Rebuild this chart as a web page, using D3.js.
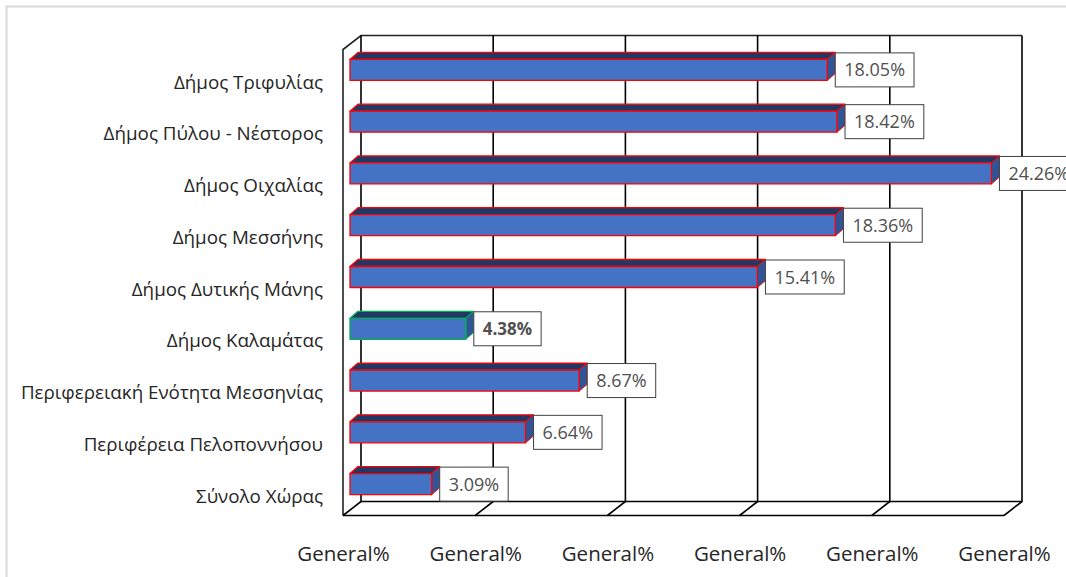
<!DOCTYPE html>
<html><head><meta charset="utf-8">
<script src="https://cdn.jsdelivr.net/npm/d3@7"></script>
<style>
html,body{margin:0;padding:0;background:#fff;overflow:hidden}
svg{display:block}
text{font-family:"Open Sans",sans-serif}
</style></head><body><svg id="c" width="1066" height="577"></svg>
<script>
const categories = ["Δήμος Τριφυλίας","Δήμος Πύλου - Νέστορος","Δήμος Οιχαλίας","Δήμος Μεσσήνης","Δήμος Δυτικής Μάνης","Δήμος Καλαμάτας","Περιφερειακή Ενότητα Μεσσηνίας","Περιφέρεια Πελοποννήσου","Σύνολο Χώρας"];
const values = [18.05,18.42,24.26,18.36,15.41,4.38,8.67,6.64,3.09];
const highlighted = ["Δήμος Καλαμάτας"];
const tickValues = [0,5,10,15,20,25];
const tickLabel = "General%";

(function(){
const W=1066,H=577;
const svg=d3.select("#c");
const pL=343,pR=1004,pT=49.5,pB=515.5,dx=18,dy=14;
const barInset=7, bdx=8, bdy=7, barH=21;
const x=d3.scaleLinear().domain([0,25]).range([pL,pR]);
const y=d3.scaleBand().domain(categories).range([pT,pB]);
const barX=v=>x(v)+barInset;
const barMid=c=>y(c)+y.bandwidth()/2-5.5;

// outer frame
svg.append("path").attr("d",`M6.5,${H}V6.5H${W}`).attr("fill","none").attr("stroke","#d9d9d9").attr("stroke-width",2);

// walls and grid
const g=svg.append("g").attr("fill","none").attr("stroke","#000").attr("stroke-width",1.6);
g.append("path").attr("d",`M${pL},${pB}V${pT}L${pL+dx},${pT-dy}H${pR+dx}`).attr("stroke","#222");
g.selectAll(".grid").data(tickValues).join("path").attr("class","grid")
  .attr("d",v=>`M${x(v)},${pB}L${x(v)+dx},${pB-dy}V${pT-dy}`);
g.append("path").attr("d",`M${pL},${pB}H${pR}`);
g.append("path").attr("d",`M${pL+dx},${pB-dy}H${pR+dx}`);

// bars
const bars=svg.append("g").selectAll("g").data(categories).join("g");
bars.each(function(c,i){
  const s=d3.select(this), x0=barX(0), x1=barX(values[i]), t=barMid(c)-barH/2, b=t+barH;
  const stroke=highlighted.includes(c)?"#00B050":"#FF0000";
  const common=el=>el.attr("stroke",stroke).attr("stroke-width",1.3).attr("stroke-linejoin","round");
  common(s.append("path").attr("fill","#203864").attr("d",`M${x0},${t}L${x0+bdx},${t-bdy}H${x1+bdx}L${x1},${t}Z`));
  s.append("path").attr("fill","#2F5597").attr("stroke",stroke).attr("stroke-width",1).attr("d",`M${x1},${t}L${x1+bdx},${t-bdy}V${b-bdy}L${x1},${b}Z`);
  common(s.append("rect").attr("fill","#4472C4").attr("x",x0).attr("y",t).attr("width",x1-x0).attr("height",barH));
});

// data labels
const lab=svg.append("g").selectAll("g").data(categories).join("g");
lab.each(function(c,i){
  const s=d3.select(this), lx=barX(values[i])+bdx, my=barMid(c);
  const bold=highlighted.includes(c);
  const r=s.append("rect").attr("fill","#fff").attr("stroke","#404040").attr("stroke-width",1).attr("y",my-17).attr("height",34).attr("x",lx);
  const t=s.append("text").attr("x",lx+9).attr("y",my+6.5).attr("font-size",bold?17:18).attr("fill","#505050").attr("font-weight",bold?700:400).text(values[i].toFixed(2)+"%");
  r.attr("width",t.node().getComputedTextLength()+18);
});

// axes
const ax=svg.append("g").attr("transform",`translate(0,${pB})`)
  .call(d3.axisBottom(x).tickValues(tickValues).tickSize(0).tickPadding(31).tickFormat(()=>tickLabel));
ax.select(".domain").remove();
ax.selectAll("text").attr("font-size",20.5).attr("fill","#262626").attr("font-family",'"Open Sans",sans-serif');
const ay=svg.append("g").attr("transform",`translate(323,0)`)
  .call(d3.axisLeft(d3.scalePoint().domain(categories).range([82,496])).tickSize(0).tickPadding(0));
ay.select(".domain").remove();
ay.selectAll("text").attr("font-size",18.8).attr("fill","#262626").attr("font-family",'"Open Sans",sans-serif');
})();
</script></body></html>
